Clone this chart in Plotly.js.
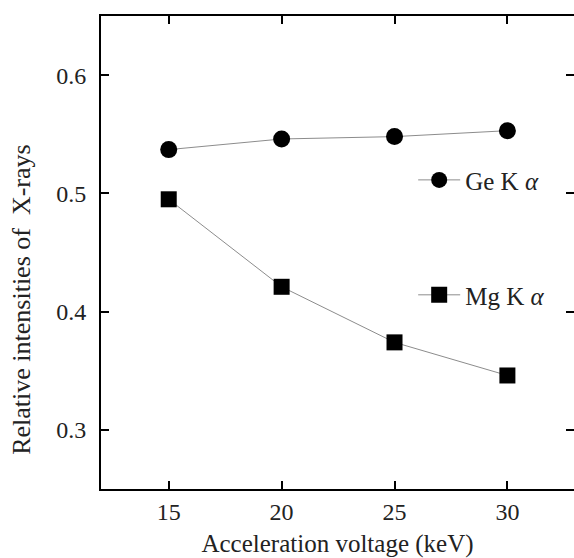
<!DOCTYPE html>
<html>
<head>
<meta charset="utf-8">
<script src="https://cdn.plot.ly/plotly-3.0.1.min.js"></script>
<style>html,body{margin:0;padding:0;background:#fff;}#chart{width:574px;height:558px;}</style>
</head>
<body>
<div id="chart"></div>
<script>
var voltage = [15, 20, 25, 30];
var geKa = [0.537, 0.546, 0.548, 0.553];
var mgKa = [0.495, 0.421, 0.374, 0.346];
var xTicks = [15, 20, 25, 30];
var yTicks = [0.3, 0.4, 0.5, 0.6];
var seriesNames = ['Ge K <i>α</i>', 'Mg K <i>α</i>'];
var yTitle = 'Relative intensities of  X-rays';

var fam = 'Liberation Serif, Times New Roman, serif';
var tickFont = {family: fam, size: 24, color: '#222'};
var xTitleFont = {family: fam, size: 25, color: '#222'};
var yTitleFont = {family: fam, size: 26, color: '#222'};
var legendFont = {family: fam, size: 25, color: '#222'};

var traces = [
  {x: voltage, y: geKa, name: seriesNames[0], type: 'scatter', mode: 'lines+markers',
   line: {color: '#8c8c8c', width: 1},
   marker: {symbol: 'circle', size: 17, color: '#000'}, legend: 'legend'},
  {x: voltage, y: mgKa, name: seriesNames[1], type: 'scatter', mode: 'lines+markers',
   line: {color: '#8c8c8c', width: 1},
   marker: {symbol: 'square', size: 16, color: '#000'}, legend: 'legend2'}
];

var axisCommon = {
  showline: true, linecolor: '#000', linewidth: 2, mirror: 'ticks',
  ticks: 'inside', ticklen: 8, tickwidth: 2, tickcolor: '#000',
  showgrid: false, zeroline: false, tickfont: tickFont
};

var legendCommon = {font: legendFont, bgcolor: 'rgba(0,0,0,0)', borderwidth: 0,
  xref: 'paper', yref: 'paper', xanchor: 'left', yanchor: 'middle', itemwidth: 42};

var layout = {
  width: 574, height: 558,
  margin: {l: 101, r: 0, t: 16, b: 69},
  paper_bgcolor: '#fff', plot_bgcolor: '#fff',
  font: tickFont,
  showlegend: true,
  xaxis: Object.assign({}, axisCommon, {
    range: [12, 32.95], tickvals: xTicks, ticktext: xTicks.map(String),
    title: {text: 'Acceleration voltage (keV)', font: xTitleFont, standoff: 18}
  }),
  yaxis: Object.assign({}, axisCommon, {
    range: [0.25, 0.65], tickvals: yTicks, ticktext: yTicks.map(function(v){return v.toFixed(1);}),
    ticklabelstandoff: 8
  }),
  annotations: [{
    text: yTitle, xref: 'paper', yref: 'paper', x: -0.167, y: 0.40,
    xanchor: 'center', yanchor: 'middle', textangle: -90, showarrow: false, font: yTitleFont
  }],
  legend: Object.assign({}, legendCommon, {x: 0.66, y: 0.653}),
  legend2: Object.assign({}, legendCommon, {x: 0.66, y: 0.41})
};

Plotly.newPlot('chart', traces, layout, {displayModeBar: false, staticPlot: true});
</script>
</body>
</html>
